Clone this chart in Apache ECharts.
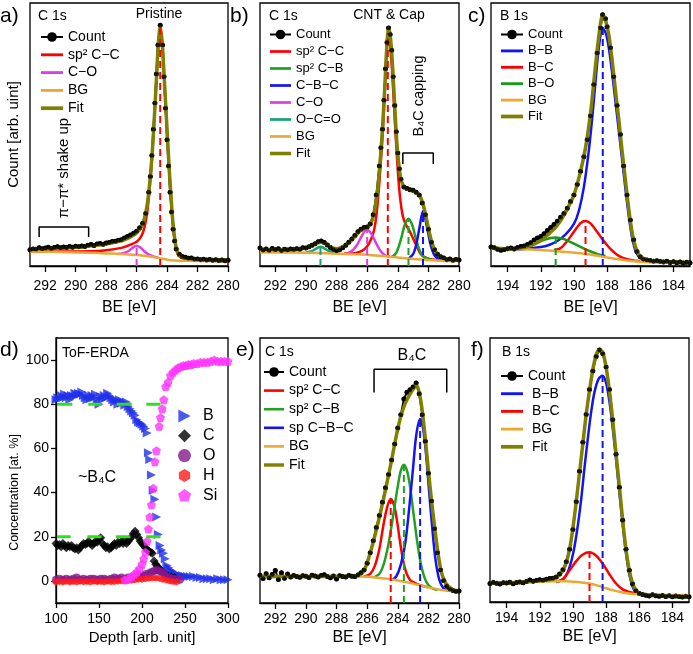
<!DOCTYPE html>
<html><head><meta charset="utf-8">
<script src="https://cdn.jsdelivr.net/npm/echarts@6/dist/echarts.min.js"></script>
<style>html,body{margin:0;padding:0;background:#fff}#c{width:693px;height:654px}</style>
</head><body><div id="c"></div>
<script>
// ---------- tick labels ----------
const ticksC = [280, 282, 284, 286, 288, 290, 292];
const ticksB = [184, 186, 188, 190, 192, 194];
const ticksConc = [0, 20, 40, 60, 80, 100];

// ---------- panel a : C 1s pristine ----------
const a_count = [[293.0,6.2],[292.8,6.5],[292.6,6.4],[292.4,6.9],[292.2,6.6],[292.0,6.8],[291.8,7.1],[291.6,6.7],[291.4,7.0],[291.2,7.3],[291.0,6.9],[290.8,7.2],[290.6,7.0],[290.4,7.4],[290.2,7.1],[290.0,7.5],[289.8,7.3],[289.6,7.6],[289.4,7.4],[289.2,7.9],[289.0,8.2],[288.8,7.8],[288.6,8.4],[288.4,8.6],[288.2,8.3],[288.0,8.7],[287.8,8.9],[287.6,9.3],[287.4,9.4],[287.2,9.8],[287.0,10.0],[286.8,10.6],[286.6,11.2],[286.4,11.8],[286.2,12.5],[286.0,13.2],[285.8,14.5],[285.6,16.3],[285.4,20],[285.2,28],[285.1,34],[285.0,42],[284.9,52],[284.8,62],[284.7,73],[284.6,84],[284.45,91.5],[284.3,84],[284.2,72],[284.1,60],[284.0,48],[283.9,38],[283.8,28],[283.7,20.5],[283.6,14],[283.5,9.5],[283.4,6.5],[283.2,4.5],[283.0,3.6],[282.8,3.3],[282.6,2.9],[282.4,3.0],[282.2,2.6],[282.0,2.7],[281.8,2.4],[281.6,2.6],[281.4,2.3],[281.2,2.5],[281.0,2.2],[280.8,2.4],[280.6,2.1],[280.4,2.3],[280.2,2.0],[280.0,2.2]];
const a_fit = [[293,6.4],[292,6.6],[291,6.8],[290,7.1],[289,7.7],[288,8.4],[287,9.6],[286.5,10.8],[286,12.6],[285.7,14.8],[285.5,17.8],[285.3,23.5],[285.15,31],[285.0,41],[284.85,55],[284.7,71],[284.58,84],[284.45,91],[284.32,85],[284.2,73],[284.05,57],[283.9,41],[283.75,27],[283.6,15.5],[283.45,8.5],[283.3,5],[283.1,3.6],[282.8,3.0],[282,2.5],[281,2.3],[280,2.2]];
const a_cc = [[293,5.5],[291,5.5],[289,5.6],[288,6.0],[287,6.9],[286.5,7.9],[286,9.2],[285.7,11.3],[285.5,14.3],[285.3,20.5],[285.15,29],[285.0,40],[284.85,54.5],[284.7,70.5],[284.58,83.5],[284.45,90.5],[284.32,84.5],[284.2,72.5],[284.05,56.5],[283.9,40.5],[283.75,26.5],[283.6,15],[283.45,8],[283.3,4.6],[283.1,3.2],[282.8,2.6],[282,2.1],[281,2.0],[280,1.9]];
const a_co = [[287.2,4.6],[286.8,5.0],[286.5,5.8],[286.25,7.0],[286.0,7.6],[285.75,7.0],[285.5,5.6],[285.2,4.3],[284.9,3.6],[284.6,3.2]];
const a_bg = [[293,5.5],[291,5.3],[289,5.0],[288,4.8],[287,4.6],[286,4.2],[285.5,3.9],[285,3.5],[284.5,3.0],[284,2.4],[283.5,2.1],[283,2.0],[281,1.9],[280,1.9]];
const a_peakCC = [284.45, 90.5];
const a_peakCO = [286.0, 7.6];
const a_bracket = [[292.4,11],[292.4,14.8],[289.15,14.8],[289.15,11]];

// ---------- panel b : C 1s CNT & Cap ----------
const b_count = [[293.0,6.8],[292.8,6.0],[292.6,6.5],[292.4,5.9],[292.2,6.7],[292.0,6.2],[291.8,6.6],[291.6,5.8],[291.4,6.4],[291.2,6.1],[291.0,6.5],[290.8,6.3],[290.6,6.6],[290.4,6.4],[290.2,6.9],[290.0,6.8],[289.8,7.3],[289.6,7.9],[289.4,8.5],[289.2,9.2],[289.0,9.5],[288.8,8.9],[288.6,8.0],[288.4,7.0],[288.2,6.3],[288.0,5.8],[287.8,6.2],[287.6,6.9],[287.4,7.9],[287.2,9.0],[287.0,10.3],[286.8,11.6],[286.6,13.0],[286.4,14.0],[286.2,14.6],[286.0,14.8],[285.8,16.0],[285.6,19.5],[285.4,27],[285.2,38],[285.1,45],[285.0,52],[284.9,63],[284.8,75],[284.7,85],[284.6,90.5],[284.5,88],[284.4,82],[284.3,72],[284.2,61],[284.1,51],[284.0,43],[283.9,37],[283.8,33],[283.6,30],[283.4,29.5],[283.2,29],[283.0,28.8],[282.8,28.0],[282.6,27],[282.4,24],[282.2,19.5],[282.0,14],[281.8,9],[281.6,6.2],[281.4,4.5],[281.2,3.5],[281.0,3.0],[280.8,2.4],[280.6,2.7],[280.4,2.2],[280.2,2.5],[280.0,2.3]];
const b_fit = [[293,6.5],[292,6.3],[291,6.3],[290.2,6.6],[289.7,7.6],[289.3,8.7],[289.0,9.0],[288.7,8.3],[288.3,7.0],[288.0,6.6],[287.6,7.3],[287.2,8.9],[286.8,11.2],[286.4,13.6],[286.0,14.8],[285.7,17],[285.5,21.5],[285.3,30],[285.15,40],[285.0,52],[284.85,68],[284.72,83],[284.6,90.5],[284.48,87],[284.35,77],[284.2,61],[284.05,46],[283.9,37],[283.75,32],[283.5,29.5],[283.2,29],[282.9,28.3],[282.6,27],[282.4,24.5],[282.2,20],[282.0,14.5],[281.8,9.5],[281.6,6.3],[281.4,4.5],[281.1,3.2],[280.8,2.6],[280,2.2]];
const b_cc = [[287.5,4.8],[287.0,4.8],[286.6,5.2],[286.2,6.3],[285.9,8.3],[285.6,12.5],[285.4,19],[285.2,32],[285.0,49],[284.85,66],[284.75,79],[284.65,88.6],[284.5,84],[284.35,72],[284.2,56],[284.05,41],[283.9,29],[283.75,21.5],[283.6,17.5],[283.4,15],[283.2,13],[283.0,10.5],[282.8,8],[282.6,5.5],[282.4,4],[282.1,3],[281.8,2.5],[281,2.1],[280,2.0]];
const b_cb = [[284.4,3.4],[284.1,5],[283.8,10],[283.55,15.5],[283.3,18],[283.05,15.5],[282.8,10],[282.5,5],[282.2,3],[281.8,2.4]];
const b_cbc = [[283.3,2.8],[283.0,4.5],[282.8,8],[282.6,14],[282.35,20.9],[282.1,15],[281.85,8],[281.6,4],[281.3,2.5],[281.0,2.2]];
const b_co = [[287.2,5.0],[286.9,6.2],[286.6,8.6],[286.3,12],[286.0,13.9],[285.7,12],[285.4,8.5],[285.1,5.5],[284.8,4.0],[284.5,3.5]];
const b_oco = [[290.0,5.1],[289.6,5.7],[289.3,6.7],[289.05,7.3],[288.8,6.7],[288.5,5.7],[288.1,5.0]];
const b_bg = [[293,5.2],[291,5.1],[289,4.9],[288,4.7],[287,4.5],[286,4.3],[285,3.8],[284.5,3.5],[284,3.2],[283,2.7],[282,2.3],[281,2.0],[280,1.9]];
const b_peakOCO = [289.05, 7.3];
const b_peakCO = [286.0, 13.9];
const b_peakCC = [284.65, 88.6];
const b_peakCB = [283.3, 18];
const b_peakCBC = [282.35, 20.9];
const b_bracket = [[283.67,38.8],[283.67,43],[281.68,43],[281.68,38.8]];

// ---------- panel c : B 1s CNT & Cap ----------
const c_count = [[195.0,7.2],[194.8,6.9],[194.6,6.4],[194.4,6.0],[194.2,6.3],[194.0,6.6],[193.8,6.8],[193.6,6.5],[193.4,7.0],[193.2,7.4],[193.0,7.6],[192.8,8.2],[192.6,8.8],[192.4,9.9],[192.2,10.6],[192.0,11.2],[191.8,12.3],[191.6,13.5],[191.4,14.6],[191.2,15.8],[191.0,17.0],[190.8,18.5],[190.6,20],[190.4,22],[190.2,24.5],[190.0,27],[189.8,31],[189.6,36],[189.4,41.5],[189.2,48],[189.0,57],[188.8,69],[188.6,81],[188.4,90.5],[188.27,95.5],[188.1,94],[188.0,91],[187.8,83],[187.6,72],[187.4,61],[187.2,50],[187.0,38],[186.8,27],[186.6,17.5],[186.4,10],[186.2,5.5],[186.0,3.5],[185.8,2.6],[185.6,2.3],[185.4,2.1],[185.2,1.8],[185.0,2.0],[184.8,1.7],[184.6,1.5],[184.4,1.8],[184.2,1.3],[184.0,1.6],[183.8,1.2],[183.6,1.5],[183.4,1.1],[183.2,1.4],[183.0,1.2]];
const c_fit = [[195,6.8],[194,6.5],[193.2,6.8],[192.6,7.8],[192,9.8],[191.5,12.3],[191,15.5],[190.5,20.5],[190,27],[189.6,36],[189.3,45],[189.0,58],[188.8,70],[188.6,82],[188.4,92],[188.27,95.5],[188.1,93.5],[187.9,88],[187.7,78.5],[187.5,67],[187.3,56],[187.1,44],[186.9,33],[186.7,22],[186.5,13],[186.3,7.5],[186.1,4.5],[185.8,2.8],[185.3,2.0],[184.5,1.6],[183,1.3]];
const c_bb = [[194,6.3],[193,6.5],[192,7.2],[191.5,8],[191,9.5],[190.5,12],[190.0,16],[189.7,21],[189.4,30],[189.1,44],[188.9,56],[188.7,70],[188.5,83],[188.26,90.5],[188.05,88],[187.85,81],[187.65,71],[187.45,60],[187.25,49],[187.05,38],[186.85,27],[186.65,17],[186.45,9.5],[186.25,5.2],[186.0,3.0],[185.5,2.0],[184.5,1.5],[183,1.2]];
const c_bc = [[191.2,6.0],[190.8,6.8],[190.4,9.5],[190.0,13],[189.6,16.3],[189.3,17.1],[189.0,16.2],[188.6,13],[188.2,9.5],[187.8,6.5],[187.4,4.3],[187.0,3.0],[186.5,2.2],[186.0,1.8]];
const c_bo = [[193.2,6.6],[192.7,7.4],[192.2,8.8],[191.7,10.2],[191.1,10.8],[190.6,10.2],[190.1,8.8],[189.6,7.3],[189.1,5.8],[188.6,4.6],[188.1,3.8]];
const c_bg = [[195,6.6],[193,6.4],[192,6.1],[191,5.6],[190,5.1],[189,4.4],[188,3.2],[187,2.3],[186,1.6],[185,1.3],[183,1.2]];
const c_peakBO = [191.1, 10.8];
const c_peakBC = [189.3, 17.1];
const c_peakBB = [188.26, 90.5];

// ---------- panel d : ToF-ERDA depth profile ----------
const d_B = [[100,82],[102,83],[104,82.5],[106,84],[108,83],[110,84.5],[112,83],[114,84],[116,82],[118,84],[120,83.5],[122,85],[124,84],[126,85],[128,84.5],[130,85.5],[132,84],[134,83],[136,82],[138,84],[140,82.5],[142,84],[144,83],[146,84.5],[148,82],[150,80],[152,83.5],[154,82],[156,84],[158,83],[160,85],[162,84],[164,83],[166,82],[168,81],[170,82],[172,80],[174,82],[176,80.5],[178,81],[180,79.5],[182,81],[184,79],[186,78],[188,77],[190,76],[192,75],[194,73],[196,72],[198,71.5],[200,71],[202,70],[204,69],[206,67],[207.5,58],[209,55],[211,48],[213,41],[215,37],[217,29],[219,21],[221,16],[223,14],[225,12.5],[227,10],[229,7],[231,6],[233,5],[235,4.5],[238,3.5],[241,3],[244,2.5],[247,2.5],[250,2],[253,2],[256,2],[260,2],[264,1.5],[268,1.5],[272,1],[276,1],[280,1],[284,0.5],[288,1],[292,0.5],[296,0.5],[300,0.5]];
const d_C = [[100,17],[102,16],[104,16.5],[106,15.5],[108,17],[110,16],[112,15],[114,16],[116,15.5],[118,16],[120,15],[122,14.5],[124,15],[126,14],[128,15],[130,16],[132,17],[134,16.5],[136,17],[138,18],[140,17],[142,16],[144,17],[146,18],[148,17.5],[150,19],[152,19.5],[154,17],[156,16],[158,15],[160,15.5],[162,14.5],[164,15],[166,16],[168,17],[170,16],[172,17.5],[174,17],[176,18],[178,17],[180,18.5],[182,17],[184,18],[186,19],[188,20],[190,21.5],[192,22.5],[194,21],[196,19.5],[198,18],[200,17],[202,16],[204,15],[206,14],[208,13.5],[210,13],[212,12.5],[214,9],[216,7.5],[218,6.5],[220,5.5],[222,5],[224,4],[227,3],[230,2.5],[234,2],[238,1.5]];
const d_O = [[100,0.5],[104,1],[108,0.5],[112,1],[116,0.5],[120,1],[124,1.5],[128,0.5],[132,1],[136,0.5],[140,1],[144,1],[148,0.5],[152,1],[156,1],[160,0.5],[164,1],[168,1.5],[172,1],[176,1.5],[180,1],[184,1.5],[188,1.5],[192,2],[196,2],[200,2.5],[204,3],[208,3.5],[211,4],[214,4.5],[217,5],[220,4.5],[223,4],[226,3],[229,2],[232,1.5],[236,1],[240,0.8],[244,0.5]];
const d_H = [[100,-0.5],[104,-0.3],[108,-0.5],[112,-0.2],[116,-0.5],[120,-0.3],[124,-0.5],[128,-0.2],[132,-0.4],[136,-0.3],[140,-0.5],[144,-0.2],[148,-0.4],[152,-0.3],[156,-0.5],[160,-0.2],[164,-0.4],[168,-0.3],[172,-0.2],[176,0],[180,0],[184,0.2],[188,0.3],[192,0.5],[196,0.7],[200,0.8],[204,1],[208,1.2],[212,1.3],[216,1.3],[220,1.2],[224,0.8],[228,0.4],[232,0],[236,-0.3],[240,-0.5]];
const d_Si = [[180,0.5],[184,1],[188,2],[191,3],[194,4],[197,5.5],[200,7.5],[202,10],[204,13],[206,18],[207.5,23.5],[209,29],[211,34.5],[213,42],[215,54],[216.8,59],[220,70],[221.5,74],[223.5,78],[225.3,82],[227.5,88],[230.4,90],[233,93],[236,94.5],[239,95.5],[242,96.5],[245,97],[248,97.5],[251,97.5],[254,98],[257,98],[260,98.5],[264,98.5],[268,99],[272,99],[276,99],[280,99.5],[284,100],[288,99.5],[292,99.5],[296,99.5],[300,99.5]];
const stoichB = 80, stoichC = 20;
const stoichB_ranges = [[101,119],[137.5,153],[170.5,188],[205,221.5]];
const stoichC_ranges = [[101,117],[136.5,153],[169.5,186.5],[205,221.5]];

// ---------- panel e : C 1s B4C ----------
const e_count = [[293.0,10.5],[292.8,9.2],[292.6,11.0],[292.4,9.5],[292.2,10.8],[292.0,12.3],[291.8,8.9],[291.6,11.4],[291.4,9.3],[291.2,10.9],[291.0,9.8],[290.8,10.4],[290.6,10.0],[290.4,9.7],[290.2,10.3],[290.0,10.1],[289.8,9.6],[289.6,10.5],[289.4,10.2],[289.2,9.8],[289.0,10.4],[288.8,10.7],[288.6,10.0],[288.4,9.5],[288.2,10.2],[288.0,9.1],[287.8,10.3],[287.6,10.0],[287.4,9.8],[287.2,10.4],[287.0,10.1],[286.8,10.0],[286.6,10.6],[286.4,11.4],[286.2,12.5],[286.0,15],[285.8,19],[285.6,23.5],[285.4,28.5],[285.2,33],[285.0,38],[284.8,43.5],[284.6,48.5],[284.4,54],[284.2,60],[284.0,66],[283.8,71],[283.6,77],[283.4,79.5],[283.2,80.5],[283.0,81.5],[282.8,83],[282.6,79],[282.4,71],[282.2,61],[282.0,49],[281.8,38.5],[281.6,28],[281.4,19],[281.2,12.5],[281.0,8.5],[280.8,6.3],[280.6,5.2],[280.4,4.7],[280.2,4.4],[280.0,4.5]];
const e_fit = [[293,10.0],[287,10.1],[286.5,10.6],[286.2,12.2],[285.9,17],[285.6,23],[285.3,30],[285.0,37.5],[284.7,45.5],[284.4,54],[284.1,63],[283.8,70.5],[283.5,75.5],[283.2,78.8],[283.0,80.6],[282.8,82.4],[282.6,79.5],[282.4,72.5],[282.2,62],[282.0,50],[281.8,39],[281.6,29],[281.4,20],[281.2,13],[281.0,9],[280.7,6.3],[280.3,4.8],[280,4.4]];
const e_cc = [[286.2,10.0],[285.8,11],[285.5,14],[285.2,20.5],[284.95,29],[284.7,36],[284.46,39.2],[284.25,37],[284.05,31],[283.85,23],[283.65,16],[283.45,11.5],[283.2,8.7],[282.9,7.6],[282.5,6.6],[282,5.9]];
const e_cb = [[285.6,9.6],[285.2,11],[284.9,15],[284.6,22.5],[284.3,33],[284.0,44],[283.8,50],[283.6,52.2],[283.4,50],[283.2,44],[283.0,35],[282.75,24],[282.5,15],[282.25,9.5],[282.0,6.8],[281.7,5.4],[281.4,4.9]];
const e_cbc = [[284.4,8.6],[284.1,10],[283.8,14.5],[283.5,23],[283.25,36],[283.0,51],[282.8,63],[282.54,69.4],[282.35,66],[282.15,56],[281.95,42],[281.75,28.5],[281.55,17],[281.3,9],[281.0,5.4],[280.7,4.6]];
const e_bg = [[293,10.2],[287,10.1],[286,9.9],[285,9.3],[284,8.5],[283,7.3],[282,5.9],[281,4.8],[280,4.4]];
const e_peakCC = [284.46, 39.2];
const e_peakCB = [283.6, 52.2];
const e_peakCBC = [282.54, 69.4];
const e_bracket = [[285.55,79.4],[285.55,88.2],[280.8,88.2],[280.8,79.4]];

// ---------- panel f : B 1s B4C ----------
const f_count = [[195.0,7.0],[194.8,7.4],[194.6,7.1],[194.4,6.8],[194.2,7.3],[194.0,7.2],[193.8,7.5],[193.6,6.9],[193.4,7.4],[193.2,7.6],[193.0,7.3],[192.8,7.8],[192.6,8.3],[192.4,7.9],[192.2,8.1],[192.0,8.4],[191.8,8.2],[191.6,8.6],[191.4,8.9],[191.2,9.0],[191.0,9.5],[190.8,10.6],[190.6,12.2],[190.4,15.2],[190.2,20],[190.0,27.5],[189.8,38],[189.6,49.5],[189.4,60.5],[189.2,71],[189.0,80.5],[188.8,87.5],[188.6,93],[188.4,95.5],[188.2,94],[188.0,89],[187.8,80.5],[187.6,69],[187.4,56],[187.2,43.5],[187.0,31],[186.8,20],[186.6,12],[186.4,6.8],[186.2,4.3],[186.0,3.2],[185.8,2.8],[185.6,2.6],[185.4,2.3],[185.2,2.7],[185.0,2.4],[184.8,2.2],[184.6,2.5],[184.4,2.1],[184.2,2.4],[184.0,2.0],[183.8,2.3],[183.6,2.1],[183.4,1.9],[183.2,2.2],[183.0,2.0]];
const f_fit = [[195,7.2],[193,7.5],[192,8.0],[191.2,8.8],[190.8,10.3],[190.6,12],[190.4,15],[190.2,20],[190.0,28],[189.8,38],[189.6,49],[189.4,60],[189.2,71],[189.0,80],[188.8,88],[188.6,93.5],[188.4,95.6],[188.2,94.5],[188.0,89],[187.8,80],[187.6,69],[187.4,56],[187.2,44],[187.0,31],[186.8,20],[186.6,12],[186.4,7],[186.2,4.5],[186.0,3.3],[185.5,2.7],[184.5,2.3],[183,2.1]];
const f_bb = [[191.0,7.6],[190.6,8.6],[190.3,11.5],[190.0,18],[189.75,27],[189.5,39],[189.3,51],[189.1,62],[188.9,72],[188.7,79.5],[188.45,84.5],[188.21,85.7],[188.0,83],[187.8,76],[187.6,66],[187.4,54],[187.2,41.5],[187.0,29.5],[186.8,18.5],[186.6,10.5],[186.4,5.8],[186.2,3.8],[186.0,3.1],[185.5,2.7],[184,2.4],[183,2.3]];
const f_bc = [[191.0,7.6],[190.6,8.6],[190.2,12],[189.8,15.5],[189.4,18],[189.0,18.8],[188.6,17.5],[188.2,14.5],[187.8,10.5],[187.4,7],[187.0,4.8],[186.6,3.8],[186.2,3.2],[185.8,2.9]];
const f_bg = [[195,7.2],[192,7.8],[190.5,7.9],[189.5,7.4],[189,7.0],[188.5,6.2],[188,5.2],[187.5,4.3],[187,3.6],[186.5,3.1],[186,2.9],[185,2.7],[183,2.6]];
const f_peakBC = [189.0, 18.8];
const f_peakBB = [188.21, 85.7];

// ---------- legends ----------
const legA = ['Count', 'sp² C−C', 'C−O', 'BG', 'Fit'];
const legB = ['Count', 'sp² C−C', 'sp² C−B', 'C−B−C', 'C−O', 'O−C=O', 'BG', 'Fit'];
const legC = ['Count', 'B−B', 'B−C', 'B−O', 'BG', 'Fit'];
const legD = ['B', 'C', 'O', 'H', 'Si'];
const legE = ['Count', 'sp² C−C', 'sp² C−B', 'sp C−B−C', 'BG', 'Fit'];
const legF = ['Count', ' B−B', ' B−C', ' BG', ' Fit'];

// ================= build =================
const FONT = '"Liberation Sans", Arial, sans-serif';
const COL = {cc:'#ff0000', co:'#dd3fdd', bg:'#eaa936', fit:'#808000', cb:'#22a022', cbc:'#1414f0', oco:'#18a07a', bo:'#1a9a1a', bb:'#1414f0', bc:'#ff0000'};
const grids = [
  {left:30, top:3, width:198, height:263},
  {left:260, top:3, width:199, height:263},
  {left:491, top:3, width:199, height:263},
  {left:56, top:338, width:172, height:265},
  {left:260, top:338, width:199, height:265},
  {left:490, top:338, width:199, height:264}
].map(g => Object.assign(g, {show:true, borderColor:'#000', borderWidth:1.3, backgroundColor:'transparent', containLabel:false, outerBoundsMode:'none'}));

function beAxis(gi, min, max, ticks, margin, nameGap) {
  return {type:'value', gridIndex:gi, min, max, inverse:true,
    axisLine:{show:true, onZero:false, lineStyle:{color:'#000', width:1.3}},
    axisTick:{show:true, inside:false, length:6, customValues:ticks, lineStyle:{color:'#000', width:1.3}},
    axisLabel:{show:true, customValues:ticks, margin, color:'#000', fontSize:14, fontFamily:FONT},
    splitLine:{show:false}, minorTick:{show:false},
    name:'BE [eV]', nameLocation:'middle', nameGap, nameMoveOverlap:false,
    nameTextStyle:{fontSize:16, color:'#000', fontFamily:FONT}};
}
function hiddenY(gi) {
  return {type:'value', gridIndex:gi, min:0, max:100, axisLine:{show:false}, axisTick:{show:false}, axisLabel:{show:false}, splitLine:{show:false}};
}
const xAxes = [
  beAxis(0, 280, 293, ticksC, 13, 34),
  beAxis(1, 280, 293, ticksC, 13, 34),
  beAxis(2, 183, 195, ticksB, 13, 34),
  {type:'value', gridIndex:3, min:100, max:300, interval:50,
    axisLine:{show:true, onZero:false, lineStyle:{color:'#000', width:1.3}},
    axisTick:{show:true, length:5, lineStyle:{color:'#000', width:1.3}},
    axisLabel:{margin:9, color:'#000', fontSize:14, fontFamily:FONT},
    splitLine:{show:false},
    name:'Depth [arb. unit]', nameLocation:'middle', nameGap:27, nameMoveOverlap:false,
    nameTextStyle:{fontSize:15, color:'#000', fontFamily:FONT}},
  beAxis(4, 280, 293, ticksC, 9, 27),
  beAxis(5, 183, 195, ticksB, 9, 27)
];
const yA = hiddenY(0);
Object.assign(yA, {name:'Count [arb. uint]', nameLocation:'middle', nameGap:9, nameMoveOverlap:false, nameTextStyle:{fontSize:15, color:'#000', fontFamily:FONT}});
const yAxes = [
  yA, hiddenY(1), hiddenY(2),
  {type:'value', gridIndex:3, min:-10, max:110,
    axisLine:{show:true, onZero:false, lineStyle:{color:'#000', width:1.3}},
    axisTick:{show:true, length:5, customValues:ticksConc, lineStyle:{color:'#000', width:1.3}},
    axisLabel:{customValues:ticksConc, margin:7, color:'#000', fontSize:14, fontFamily:FONT},
    splitLine:{show:false},
    name:'Concentration [at. %]', nameLocation:'middle', nameGap:35, nameMoveOverlap:false,
    nameTextStyle:{fontSize:12.5, color:'#000', fontFamily:FONT, padding:[0,44,0,0]}},
  hiddenY(4), hiddenY(5)
];

const series = [];
function addLine(gi, name, data, color, width, z) {
  series.push({type:'line', name, data, xAxisIndex:gi, yAxisIndex:gi, symbol:'none', showSymbol:false,
    smooth:0.3, lineStyle:{color, width}, itemStyle:{color}, z, silent:true});
}
function addCount(gi, data) {
  series.push({type:'line', name:'Count', data, xAxisIndex:gi, yAxisIndex:gi, symbol:'circle', symbolSize:5,
    showSymbol:true, lineStyle:{color:'#000', width:2}, itemStyle:{color:'#000'}, z:1, silent:true});
  series.push({type:'scatter', name:'_pts' + gi, data, xAxisIndex:gi, yAxisIndex:gi, symbolSize:4.5,
    itemStyle:{color:'#000'}, z:8, silent:true});
}
function addDrop(gi, pk, color) {
  series.push({type:'line', data:[[pk[0], 0], [pk[0], pk[1]]], xAxisIndex:gi, yAxisIndex:gi, symbol:'none',
    lineStyle:{color, width:2, type:[7, 4]}, z:5, silent:true});
}
function addBracket(gi, data) {
  series.push({type:'line', data, xAxisIndex:gi, yAxisIndex:gi, symbol:'none',
    lineStyle:{color:'#000', width:1.5}, z:5, silent:true});
}

// a
addCount(0, a_count);
addLine(0, 'sp² C−C', a_cc, COL.cc, 2.5, 3);
addLine(0, 'C−O', a_co, COL.co, 2.5, 3);
addLine(0, 'BG', a_bg, COL.bg, 2.5, 3);
addLine(0, 'Fit', a_fit, COL.fit, 3.5, 4);
addDrop(0, a_peakCC, COL.cc); addDrop(0, a_peakCO, COL.co);
addBracket(0, a_bracket);
// b
addCount(1, b_count);
addLine(1, 'sp² C−C', b_cc, COL.cc, 2.5, 3);
addLine(1, 'sp² C−B', b_cb, COL.cb, 2.5, 3);
addLine(1, 'C−B−C', b_cbc, COL.cbc, 2.5, 3);
addLine(1, 'C−O', b_co, COL.co, 2.5, 3);
addLine(1, 'O−C=O', b_oco, COL.oco, 2.5, 3);
addLine(1, 'BG', b_bg, COL.bg, 2.5, 3);
addLine(1, 'Fit', b_fit, COL.fit, 3.5, 4);
addDrop(1, b_peakOCO, COL.oco); addDrop(1, b_peakCO, COL.co); addDrop(1, b_peakCC, COL.cc);
addDrop(1, b_peakCB, COL.cb); addDrop(1, b_peakCBC, COL.cbc);
addBracket(1, b_bracket);
// c
addCount(2, c_count);
addLine(2, 'B−B', c_bb, COL.bb, 2.5, 3);
addLine(2, 'B−C', c_bc, COL.bc, 2.5, 3);
addLine(2, 'B−O', c_bo, COL.bo, 2.5, 3);
addLine(2, 'BG', c_bg, COL.bg, 2.5, 3);
addLine(2, 'Fit', c_fit, COL.fit, 3.5, 4);
addDrop(2, c_peakBO, COL.bo); addDrop(2, c_peakBC, COL.bc); addDrop(2, c_peakBB, COL.bb);
// d
const P_TRI = 'path://M-8,-9 L9,0 L-8,9 Z';
const P_HEX = 'path://M0,-10 L8.66,-5 L8.66,5 L0,10 L-8.66,5 L-8.66,-5 Z';
const P_PENT = 'path://M0,-10 L9.51,-3.09 L5.88,8.09 L-5.88,8.09 L-9.51,-3.09 Z';
function addScatter(name, data, symbol, size, color, z) {
  series.push({type:'scatter', name, data, xAxisIndex:3, yAxisIndex:3, symbol, symbolSize:size,
    itemStyle:{color}, z, silent:true});
}
addScatter('B', d_B, P_TRI, 9, '#1f2fe8', 2);
addScatter('C', d_C, 'diamond', 9, '#000000', 3);
addScatter('O', d_O, 'circle', 8, '#85188f', 3);
addScatter('H', d_H, P_HEX, 7, '#ff1a1a', 4);
addScatter('Si', d_Si, P_PENT, 9, '#ff33ff', 4);
stoichB_ranges.forEach(r => series.push({type:'line', data:[[r[0], stoichB], [r[1], stoichB]], xAxisIndex:3, yAxisIndex:3,
  symbol:'none', lineStyle:{color:'#33dd22', width:3}, z:6, silent:true}));
stoichC_ranges.forEach(r => series.push({type:'line', data:[[r[0], stoichC], [r[1], stoichC]], xAxisIndex:3, yAxisIndex:3,
  symbol:'none', lineStyle:{color:'#33dd22', width:3}, z:6, silent:true}));
// e
addCount(4, e_count);
addLine(4, 'sp² C−C', e_cc, COL.cc, 2.5, 3);
addLine(4, 'sp² C−B', e_cb, COL.cb, 2.5, 3);
addLine(4, 'sp C−B−C', e_cbc, COL.cbc, 2.5, 3);
addLine(4, 'BG', e_bg, COL.bg, 2.5, 3);
addLine(4, 'Fit', e_fit, COL.fit, 3.5, 4);
addDrop(4, e_peakCC, COL.cc); addDrop(4, e_peakCB, COL.cb); addDrop(4, e_peakCBC, COL.cbc);
addBracket(4, e_bracket);
// f
addCount(5, f_count);
addLine(5, ' B−B', f_bb, COL.bb, 2.5, 3);
addLine(5, ' B−C', f_bc, COL.bc, 2.5, 3);
addLine(5, ' BG', f_bg, COL.bg, 2.5, 3);
addLine(5, ' Fit', f_fit, COL.fit, 3.5, 4);
addDrop(5, f_peakBC, COL.bc); addDrop(5, f_peakBB, COL.bb);

// legend icons: plain line bars for fitted components, line+dot for Count
const ICON_LINE = 'path://M0,0 L100,0 L100,13 L0,13 Z';
const ICON_FIT = 'path://M0,0 L100,0 L100,17 L0,17 Z';
function legItems(names) {
  return names.map(n => n === 'Count' ? {name:n} : {name:n, icon: n.trim() === 'Fit' ? ICON_FIT : ICON_LINE});
}
function legend(data, left, top, fontSize, itemGap, itemWidth) {
  return {data:legItems(data), orient:'vertical', left, top, padding:0, itemGap, itemWidth, itemHeight:12,
    symbolKeepAspect:true, selectedMode:false, textStyle:{fontSize, color:'#000', fontFamily:FONT}};
}
const legends = [
  legend(legA, 40, 30, 14, 3.8, 22),
  legend(legB, 269, 28, 13, 4.0, 21),
  legend(legC, 500, 28, 13, 3.4, 22),
  {data:legD, orient:'vertical', left:178, top:408, padding:0, itemGap:3.8, itemWidth:13, itemHeight:13,
    selectedMode:false, textStyle:{fontSize:16, color:'#000', fontFamily:FONT, padding:[0,0,0,7]}},
  legend(legE, 263, 365, 14, 4.6, 20),
  legend(legF, 500, 369, 14, 3.7, 22)
];

function txt(text, x, y, size, align, rot) {
  const o = {type:'text', x, y, silent:true,
    style:{text, font:size + 'px ' + FONT, fill:'#000', textAlign:align || 'left', textVerticalAlign:'middle'}};
  if (rot) o.rotation = rot;
  return o;
}
const R = Math.PI / 2;
const graphics = [
  txt('a)', 0, 16, 21), txt('b)', 230, 16, 21), txt('c)', 468, 16, 21),
  txt('d)', 0, 350, 21), txt('e)', 236, 350, 21), txt('f)', 471, 350, 21),
  txt('C 1s', 38, 16, 14), txt('Pristine', 159, 14, 14, 'center'),
  txt('C 1s', 269, 16, 14), txt('CNT & Cap', 389, 15, 14, 'center'),
  txt('B 1s', 500, 16, 14),
  txt('ToF-ERDA', 62, 353, 14), txt('~B₄C', 97, 478, 16, 'center'),
  txt('C 1s', 265, 352, 14), txt('B₄C', 412, 356, 16, 'center'),
  txt('B 1s', 502, 352, 14),
  txt('π−π* shake up', 64, 168, 15, 'center', R),
  txt('B₄C capping', 419, 96, 14.5, 'center', R)
];

const option = {animation:false, backgroundColor:'#fff', grid:grids, xAxis:xAxes, yAxis:yAxes,
  legend:legends, series, graphic:graphics, tooltip:{show:false}};
const chart = echarts.init(document.getElementById('c'), null, {renderer:'canvas'});
chart.setOption(option);
</script></body></html>
